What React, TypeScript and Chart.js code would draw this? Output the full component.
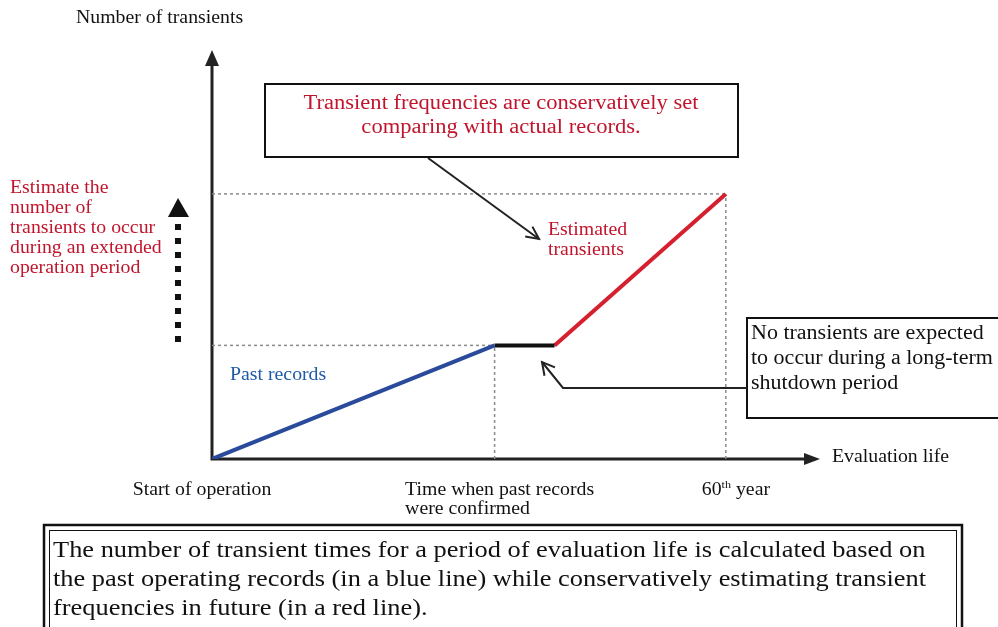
import React, { useEffect, useRef } from "react";
import { Chart, registerables } from "chart.js";

Chart.register(...registerables);

// ---- data (years of operation vs. number of transients, schematic) ----
const milestoneYears = [0, 33, 40, 60]; // start, records confirmed, restart, 60th year
const pastRecordYears = [0, 33];
const pastRecordCounts = [0, 30];
const shutdownYears = [33, 40];
const shutdownCounts = [30, 30];
const estimatedYears = [40, 60];
const estimatedCounts = [30, 70];
const xAxisMax = 71;
const yAxisMax = 108;

// ---- text ----
const yAxisTitle = "Number of transients";
const xAxisTitle = "Evaluation life";
const tickLabelStart = ["Start of operation"];
const tickLabelConfirmed = ["Time when past records", "were confirmed"];
const tickLabel60 = ["60", "th", " year"];
const topNote = ["Transient frequencies are conservatively set", "comparing with actual records."];
const estimatedLabel = ["Estimated", "transients"];
const pastLabel = "Past records";
const shutdownNote = ["No transients are expected", "to occur during a long-term", "shutdown period"];
const leftNote = ["Estimate the", "number of", "transients to occur", "during an extended", "operation period"];
const bottomNote = [
  "The number of transient times for a period of evaluation life is calculated based on",
  "the past operating records (in a blue line) while conservatively estimating transient",
  "frequencies in future (in a red line).",
];

const FONT = '"Liberation Serif", "Times New Roman", serif';
const SX = 1.1; // horizontal stretch of the scanned lettering
const RED = "#c0152d";
const BLUE = "#1d5aa8";
const BLUE_LINE = "#2a4a9c";
const RED_LINE = "#d4202f";
const GUIDE = "#8a8a8a";

const pts = (xs: number[], ys: number[]) => xs.map((x, i) => ({ x, y: ys[i] }));

function txt(ctx: CanvasRenderingContext2D, s: string, x: number, y: number, align: "left" | "center" = "left") {
  const w = ctx.measureText(s).width * SX;
  const lx = align === "center" ? x - w / 2 : x;
  ctx.save();
  ctx.translate(lx, y);
  ctx.scale(SX, 1);
  ctx.textAlign = "left";
  ctx.fillText(s, 0, 0);
  ctx.restore();
  return w;
}

function openHead(ctx: CanvasRenderingContext2D, tx: number, ty: number, fx: number, fy: number, len = 14, spread = 0.5) {
  const a = Math.atan2(ty - fy, tx - fx);
  ctx.beginPath();
  ctx.moveTo(tx - len * Math.cos(a - spread), ty - len * Math.sin(a - spread));
  ctx.lineTo(tx, ty);
  ctx.lineTo(tx - len * Math.cos(a + spread), ty - len * Math.sin(a + spread));
  ctx.stroke();
}

const axesPlugin = {
  id: "axesArrows",
  beforeDatasetsDraw(chart: any) {
    const ctx = chart.ctx as CanvasRenderingContext2D;
    const xs = chart.scales.x;
    const ys = chart.scales.y;
    const { top, right } = chart.chartArea;
    const x0 = xs.getPixelForValue(0);
    const y0 = ys.getPixelForValue(0);
    ctx.save();
    ctx.strokeStyle = "#222";
    ctx.fillStyle = "#222";
    ctx.lineWidth = 3;
    ctx.beginPath();
    ctx.moveTo(x0, y0 + 1.5);
    ctx.lineTo(x0, top + 12);
    ctx.moveTo(x0 - 1.5, y0);
    ctx.lineTo(right - 12, y0);
    ctx.stroke();
    ctx.beginPath();
    ctx.moveTo(x0, top);
    ctx.lineTo(x0 - 7, top + 16);
    ctx.lineTo(x0 + 7, top + 16);
    ctx.closePath();
    ctx.fill();
    ctx.beginPath();
    ctx.moveTo(right, y0);
    ctx.lineTo(right - 16, y0 - 6);
    ctx.lineTo(right - 16, y0 + 6);
    ctx.closePath();
    ctx.fill();
    ctx.restore();
  },
};

const notesPlugin = {
  id: "notes",
  afterDatasetsDraw(chart: any) {
    const ctx = chart.ctx as CanvasRenderingContext2D;
    const xs = chart.scales.x;
    const ys = chart.scales.y;
    const px = (v: number) => xs.getPixelForValue(v);
    const py = (v: number) => ys.getPixelForValue(v);
    const y0 = py(0);
    ctx.save();
    ctx.textBaseline = "middle";

    // axis titles
    ctx.fillStyle = "#111";
    ctx.font = `18px ${FONT}`;
    txt(ctx, yAxisTitle, 76, 18);
    txt(ctx, xAxisTitle, chart.chartArea.right + 12, y0 - 2);

    // tick labels
    ctx.font = `18px ${FONT}`;
    txt(ctx, tickLabelStart[0], px(milestoneYears[0]) - 10, y0 + 31, "center");
    const w1 = ctx.measureText(tickLabelConfirmed[0]).width * SX;
    const lx = px(milestoneYears[1]) + 5 - w1 / 2;
    txt(ctx, tickLabelConfirmed[0], lx, y0 + 31);
    txt(ctx, tickLabelConfirmed[1], lx, y0 + 50);
    let tx = px(milestoneYears[3]) - 24;
    tx += txt(ctx, tickLabel60[0], tx, y0 + 31);
    ctx.font = `11px ${FONT}`;
    tx += txt(ctx, tickLabel60[1], tx, y0 + 26);
    ctx.font = `18px ${FONT}`;
    txt(ctx, tickLabel60[2], tx, y0 + 31);

    // top note box
    ctx.fillStyle = "#fff";
    ctx.fillRect(265, 84, 473, 73);
    ctx.strokeStyle = "#111";
    ctx.lineWidth = 2;
    ctx.strokeRect(265, 84, 473, 73);
    ctx.fillStyle = RED;
    ctx.font = `20.5px ${FONT}`;
    txt(ctx, topNote[0], 501, 104, "center");
    txt(ctx, topNote[1], 501, 128, "center");

    // arrow from top box to estimated transients
    ctx.strokeStyle = "#222";
    ctx.lineWidth = 2;
    ctx.beginPath();
    ctx.moveTo(428, 158);
    ctx.lineTo(539, 239);
    ctx.stroke();
    openHead(ctx, 539, 239, 428, 158, 14, 0.45);

    ctx.fillStyle = RED;
    ctx.font = `18px ${FONT}`;
    txt(ctx, estimatedLabel[0], 548, 230);
    txt(ctx, estimatedLabel[1], 548, 250);

    // past records label
    ctx.fillStyle = BLUE;
    ctx.font = `18px ${FONT}`;
    txt(ctx, pastLabel, 230, 375);

    // right note box
    ctx.fillStyle = "#fff";
    ctx.fillRect(747, 318, 260, 100);
    ctx.strokeStyle = "#111";
    ctx.lineWidth = 2;
    ctx.strokeRect(747, 318, 260, 100);
    ctx.fillStyle = "#111";
    ctx.font = `20px ${FONT}`;
    txt(ctx, shutdownNote[0], 751, 334);
    txt(ctx, shutdownNote[1], 751, 359);
    txt(ctx, shutdownNote[2], 751, 384);

    // arrow from right box to shutdown segment
    ctx.strokeStyle = "#222";
    ctx.lineWidth = 2;
    ctx.beginPath();
    ctx.moveTo(747, 388);
    ctx.lineTo(563, 388);
    ctx.lineTo(542, 362);
    ctx.stroke();
    openHead(ctx, 542, 362, 563, 388, 14, 0.5);

    // left note
    ctx.fillStyle = RED;
    ctx.font = `18px ${FONT}`;
    leftNote.forEach((t, i) => txt(ctx, t, 10, 188 + i * 20));

    // dotted arrow
    ctx.fillStyle = "#111";
    ctx.beginPath();
    ctx.moveTo(178, 198);
    ctx.lineTo(168, 217);
    ctx.lineTo(189, 217);
    ctx.closePath();
    ctx.fill();
    for (let i = 0; i < 9; i++) {
      ctx.fillRect(175, 224 + i * 14, 6, 6);
    }

    // bottom note, double frame
    ctx.strokeStyle = "#111";
    ctx.lineWidth = 2.5;
    ctx.strokeRect(44, 525, 918, 120);
    ctx.lineWidth = 1;
    ctx.strokeRect(49.5, 530.5, 907, 120);
    ctx.fillStyle = "#111";
    ctx.font = `24px ${FONT}`;
    bottomNote.forEach((t, i) => txt(ctx, t, 53, 551 + i * 29));

    ctx.restore();
  },
};

export default function App() {
  const ref = useRef<HTMLCanvasElement | null>(null);
  useEffect(() => {
    if (!ref.current) return;
    const guide = {
      borderColor: GUIDE,
      borderWidth: 1.5,
      borderDash: [3, 3],
      pointRadius: 0,
      fill: false,
      order: 5,
    };
    const chart = new Chart(ref.current, {
      type: "scatter",
      data: {
        datasets: [
          { data: pts(pastRecordYears, pastRecordCounts), showLine: true, borderColor: BLUE_LINE, borderWidth: 4, pointRadius: 0, order: 1 },
          { data: pts(shutdownYears, shutdownCounts), showLine: true, borderColor: "#111", borderWidth: 4, pointRadius: 0, order: 1 },
          { data: pts(estimatedYears, estimatedCounts), showLine: true, borderColor: RED_LINE, borderWidth: 4, pointRadius: 0, order: 1 },
          { ...guide, showLine: true, data: [{ x: 0, y: pastRecordCounts[1] }, { x: pastRecordYears[1], y: pastRecordCounts[1] }] },
          { ...guide, showLine: true, data: [{ x: pastRecordYears[1], y: 0 }, { x: pastRecordYears[1], y: pastRecordCounts[1] }] },
          { ...guide, showLine: true, data: [{ x: 0, y: estimatedCounts[1] }, { x: estimatedYears[1], y: estimatedCounts[1] }] },
          { ...guide, showLine: true, data: [{ x: estimatedYears[1], y: 0 }, { x: estimatedYears[1], y: estimatedCounts[1] }] },
        ] as any,
      },
      options: {
        animation: false,
        responsive: false,
        devicePixelRatio: 1,
        layout: { padding: { left: 212, right: 178, top: 50, bottom: 168 } },
        plugins: { legend: { display: false }, tooltip: { enabled: false } },
        scales: {
          x: { type: "linear", min: 0, max: xAxisMax, display: false },
          y: { type: "linear", min: 0, max: yAxisMax, display: false },
        },
      },
      plugins: [axesPlugin, notesPlugin],
    });
    return () => chart.destroy();
  }, []);
  return (
    <div style={{ position: "absolute", left: 0, top: 0, width: 998, height: 627, background: "#fff" }}>
      <canvas ref={ref} width={998} height={627} style={{ width: 998, height: 627 }} />
    </div>
  );
}
